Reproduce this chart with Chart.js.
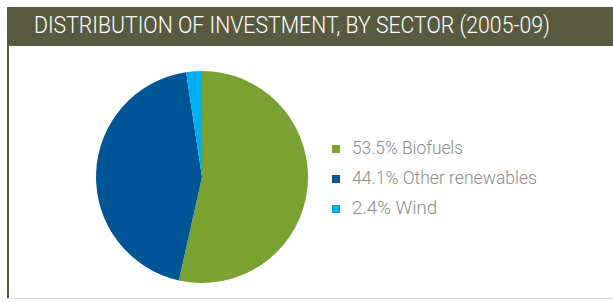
<!DOCTYPE html>
<html><head><meta charset="utf-8">
<script src="https://cdn.jsdelivr.net/npm/chart.js@4/dist/chart.umd.min.js"></script>
<style>
html,body{margin:0;padding:0;background:#fff;width:613px;height:302px;overflow:hidden;}
#hdr{position:absolute;left:7px;top:7px;width:606px;height:39px;background:#575a3f;}
#title{position:absolute;left:34px;top:11px;color:#fff;font-family:Roboto,"DejaVu Sans Condensed",sans-serif;font-weight:300;font-size:23px;white-space:nowrap;transform-origin:0 0;line-height:30px;}
#lborder{position:absolute;left:7px;top:46px;width:2px;height:252px;background:#575a3f;}
#bborder{position:absolute;left:7px;top:298px;width:606px;height:1px;background:#dcdcdc;}
#wrap{position:absolute;left:90px;top:65px;width:224px;height:224px;}
.leg{position:absolute;left:332px;height:20px;}
.sq{position:absolute;left:0;top:6px;width:8px;height:8px;}
.lt{position:absolute;left:20px;top:-3px;color:#8c8c8c;font-family:Roboto,"DejaVu Sans Condensed",sans-serif;font-weight:300;font-size:18px;white-space:nowrap;transform-origin:0 0;line-height:24px;}
</style></head>
<body>
<div id="hdr"></div>
<div id="title">DISTRIBUTION OF INVESTMENT, BY SECTOR (2005-09)</div>
<div id="lborder"></div>
<div id="bborder"></div>
<div id="wrap"><canvas id="c"></canvas></div>
<div id="legend"></div>
<script>
const categories = ["Biofuels", "Other renewables", "Wind"];
const values = [53.5, 44.1, 2.4];
const colors = ["#79a232", "#005596", "#00aeef"];

function fit(el, w){
  const r = el.getBoundingClientRect().width;
  el.style.transform = "scaleX(" + (w / r) + ")";
}
fit(document.getElementById('title'), 516);

const legend = document.getElementById('legend');
const legendWidths = [111, 185, 85];
categories.forEach((c, i) => {
  const d = document.createElement('div');
  d.className = 'leg';
  d.style.top = (139 + i * 30) + 'px';
  d.innerHTML = '<div class="sq" style="background:' + colors[i] + '"></div><div class="lt">' + values[i].toFixed(1) + '% ' + c + '</div>';
  legend.appendChild(d);
  fit(d.querySelector('.lt'), legendWidths[i]);
});

new Chart(document.getElementById('c'), {
  type: 'pie',
  data: { labels: categories, datasets: [{ data: values, backgroundColor: colors, borderWidth: 0 }] },
  options: {
    responsive: true, maintainAspectRatio: false, animation: false,
    layout: { padding: 6 },
    plugins: { legend: { display: false }, tooltip: { enabled: false } }
  }
});
</script>
</body></html>
